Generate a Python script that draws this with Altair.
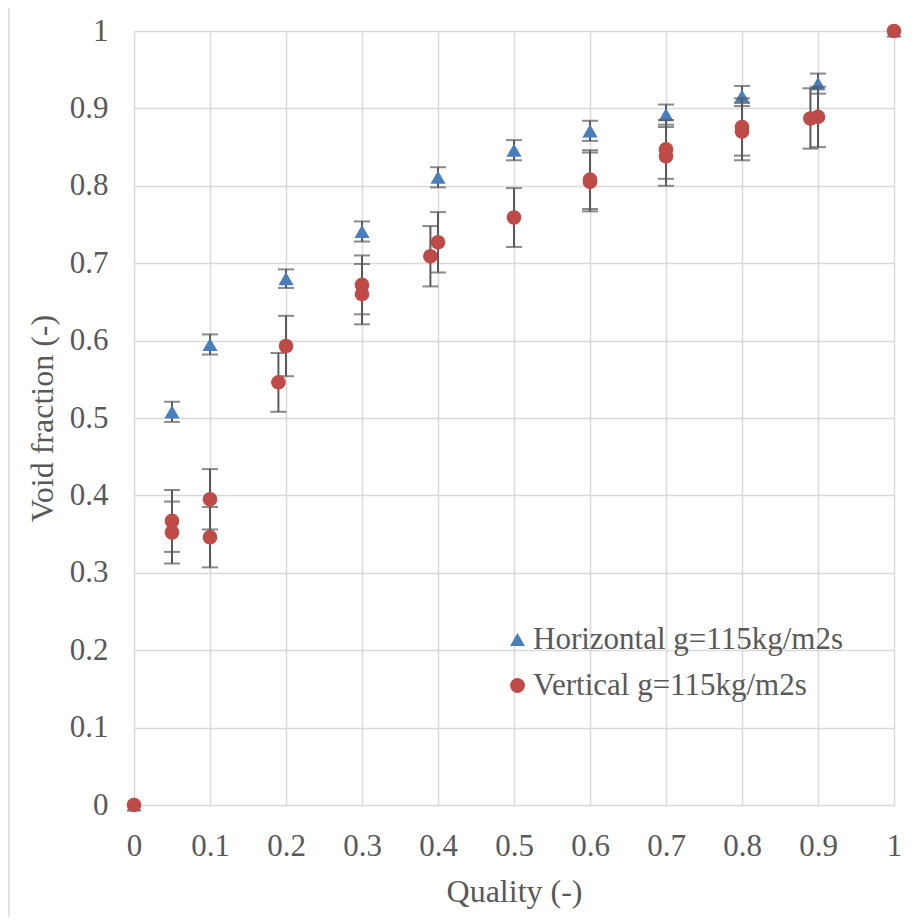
import altair as alt
import pandas as pd

# ---- data ----
tick_values = [0, 0.1, 0.2, 0.3, 0.4, 0.5, 0.6, 0.7, 0.8, 0.9, 1.0]

series_names = ["Horizontal g=115kg/m2s", "Vertical g=115kg/m2s"]

horiz_x = [0, 0.05, 0.1, 0.2, 0.3, 0.4, 0.5, 0.6, 0.7, 0.8, 0.9, 1.0]
horiz_y = [0, 0.508, 0.595, 0.680, 0.741, 0.811, 0.846, 0.871, 0.892, 0.916, 0.932, 1.0]
horiz_err = [0, 0.013, 0.013, 0.012, 0.013, 0.013, 0.013, 0.013, 0.013, 0.013, 0.013, 0]

vert_x = [0, 0.05, 0.05, 0.1, 0.1, 0.19, 0.2, 0.3, 0.3, 0.39, 0.4, 0.5,
          0.6, 0.6, 0.7, 0.7, 0.8, 0.8, 0.89, 0.9, 1.0]
vert_y = [0, 0.367, 0.352, 0.395, 0.346, 0.546, 0.593, 0.672, 0.660, 0.709, 0.727, 0.759,
          0.808, 0.805, 0.847, 0.838, 0.876, 0.870, 0.887, 0.889, 1.0]
vert_err = [0, 0.040, 0.040, 0.039, 0.039, 0.038, 0.039, 0.038, 0.039, 0.039, 0.039, 0.038,
            0.038, 0.038, 0.038, 0.038, 0.037, 0.037, 0.039, 0.039, 0]

# ---- tables ----
h_df = pd.DataFrame({"x": horiz_x, "y": horiz_y, "err": horiz_err, "series": series_names[0]})
v_df = pd.DataFrame({"x": vert_x, "y": vert_y, "err": vert_err, "series": series_names[1]})
for d in (h_df, v_df):
    d["lo"] = d["y"] - d["err"]
    d["hi"] = d["y"] + d["err"]

FONT = "Liberation Serif"
TXT = "#595959"
GRID = "#d9d9d9"
ERRC = "#595959"

xscale = alt.Scale(domain=[0, 1], nice=False, zero=False)
yscale = alt.Scale(domain=[0, 1], nice=False, zero=False)

x_axis = alt.Axis(values=tick_values, format=".1~f", title="Quality (-)",
                  grid=True, gridColor=GRID, gridWidth=1.5, domain=False, ticks=False,
                  labelFont=FONT, labelFontSize=31, labelColor=TXT, labelPadding=26,
                  labelFlush=False, labelOverlap=False,
                  titleFont=FONT, titleFontSize=32, titleColor=TXT, titleFontWeight="normal",
                  titleY=96, titleBaseline="alphabetic")
y_axis = alt.Axis(values=tick_values, format=".1~f", title="Void fraction (-)",
                  grid=True, gridColor=GRID, gridWidth=1.5, domain=False, ticks=False,
                  labelFont=FONT, labelFontSize=31, labelColor=TXT, labelPadding=26,
                  labelFlush=False, labelOverlap=False,
                  titleFont=FONT, titleFontSize=32, titleColor=TXT, titleFontWeight="normal",
                  titleX=-82, titleY=387, titleAngle=-90, titleAlign="center",
                  titleBaseline="alphabetic")

color_scale = alt.Scale(domain=series_names, range=["#4a7ebb", "#be4b48"])
shape_scale = alt.Scale(domain=series_names, range=["triangle-up", "circle"])
legend = alt.Legend(title=None, orient="none", legendX=368, legendY=593,
                    labelFont=FONT, labelFontSize=31, labelColor=TXT, labelOffset=0,
                    symbolSize=220, symbolStrokeWidth=0, symbolOpacity=1,
                    rowPadding=14, padding=0, labelLimit=500)


def err_layers(df):
    base = alt.Chart(df).transform_filter(alt.datum.err > 0)
    bar = base.mark_rule(color=ERRC, strokeWidth=2).encode(
        x=alt.X("x:Q", scale=xscale, axis=x_axis),
        y=alt.Y("lo:Q", scale=yscale, axis=y_axis),
        y2="hi:Q",
    )
    cap_lo = base.mark_tick(color=ERRC, orient="horizontal", size=16, thickness=2).encode(
        x=alt.X("x:Q", scale=xscale), y=alt.Y("lo:Q", scale=yscale))
    cap_hi = base.mark_tick(color=ERRC, orient="horizontal", size=16, thickness=2).encode(
        x=alt.X("x:Q", scale=xscale), y=alt.Y("hi:Q", scale=yscale))
    return [bar, cap_lo, cap_hi]


def point_layer(df, size):
    return alt.Chart(df).mark_point(filled=True, opacity=1, size=size, strokeWidth=0).encode(
        x=alt.X("x:Q", scale=xscale, axis=x_axis),
        y=alt.Y("y:Q", scale=yscale, axis=y_axis),
        color=alt.Color("series:N", scale=color_scale, legend=legend),
        shape=alt.Shape("series:N", scale=shape_scale, legend=legend),
    )


border = alt.Chart(pd.DataFrame({"a": [0]})).mark_rule(color=GRID, strokeWidth=1.5).encode(
    x=alt.value(-125), y=alt.value(-40), y2=alt.value(900))

layers = [border] + err_layers(h_df) + [point_layer(h_df, 230)] + err_layers(v_df) + [point_layer(v_df, 215)]

chart = alt.layer(*layers).properties(
    width=760, height=774,
    autosize=alt.AutoSizeParams(type="none"),
    padding={"left": 126, "top": 23, "right": 10, "bottom": 112},
).configure_view(stroke=None).configure(background="white")

chart.save("out.html", embed_options={"renderer": "svg", "actions": False})
